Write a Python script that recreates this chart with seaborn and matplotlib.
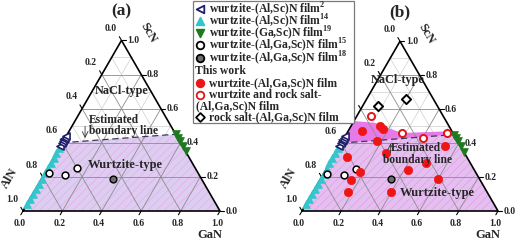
import matplotlib
matplotlib.use("Agg")
import matplotlib.pyplot as plt
from matplotlib.patches import Polygon, Rectangle
import numpy as np
import seaborn as sns

# ------------------------------------------------------------------
# DATA  (ternary fractions: GaN, ScN ; AlN = 1 - GaN - ScN)
# ------------------------------------------------------------------
# literature
alscn_ref2_scn = [0.38, 0.40, 0.41, 0.42, 0.43, 0.44]          # on AlN-ScN edge
alscn_ref14_scn = [0.04, 0.07, 0.10, 0.13, 0.16, 0.19, 0.22,
                   0.25, 0.28, 0.31, 0.34, 0.37]                # on AlN-ScN edge
gascn_ref19_scn = [0.35, 0.38, 0.41, 0.43, 0.45]                # on GaN-ScN edge
alga_ref15_gan = [0.02, 0.11, 0.15]
alga_ref15_scn = [0.22, 0.21, 0.25]
alga_ref18_gan = [0.36]
alga_ref18_scn = [0.19]

# this work
wz_gan = [0.07, 0.15, 0.17, 0.18, 0.26, 0.54, 0.07, 0.18, 0.16, 0.18, 0.40, 0.42, 0.49, 0.60]
wz_scn = [0.47, 0.50, 0.485, 0.41, 0.34, 0.38, 0.32, 0.23, 0.18, 0.11, 0.11, 0.24, 0.285, 0.19]
mix_gan = [0.07, 0.28, 0.40, 0.51]
mix_scn = [0.56, 0.46, 0.43, 0.46]
rs_gan = [0.08, 0.20]
rs_scn = [0.62, 0.66]

# estimated boundary (ScN at AlN-ScN edge, ScN at GaN-ScN edge)
boundary_scn = [0.40, 0.45]
# upper outline of the mixed-phase zone in panel (b)
mixed_top_gan = [0.0, 0.11, 0.20, 0.28, 0.53]
mixed_top_scn = [0.53, 0.52, 0.487, 0.46, 0.47]

tick_values = [0.0, 0.2, 0.4, 0.6, 0.8, 1.0]
tick_labels = ["0.0", "0.2", "0.4", "0.6", "0.8", "1.0"]

SQ = np.sqrt(3) / 2
SERIF = "Liberation Serif"


def tern_xy(gan, scn):
    gan = np.asarray(gan, dtype=float)
    scn = np.asarray(scn, dtype=float)
    return gan + scn / 2, scn * SQ


def draw_frame(ax, panel, lower_color, hatch_color):
    # grid
    for i in range(1, 10):
        v = i / 10
        major = i % 2 == 0
        col = "#8c8c8c" if major else "#cfcfcf"
        lw = 0.6 if major else 0.5
        z = 2.5 if major else 0.5
        segs = [
            tern_xy([0, 1 - v], [v, v]),          # const ScN
            tern_xy([v, v], [0, 1 - v]),          # const GaN
            tern_xy([1 - v, 0], [0, 1 - v]),      # const AlN
        ]
        for xs, ys in segs:
            ax.plot(xs, ys, color=col, lw=lw, zorder=z)

    # wurtzite region
    bx, by = tern_xy([0, 1, 1 - boundary_scn[1], 0],
                     [0, 0, boundary_scn[1], boundary_scn[0]])
    ax.add_patch(Polygon(np.column_stack([bx, by]), closed=True,
                         facecolor=lower_color, edgecolor=hatch_color,
                         hatch="////", lw=0, zorder=1))

    # boundary line
    lx, ly = tern_xy([0, 1 - boundary_scn[1]], boundary_scn)
    ax.plot(lx, ly, color="#3a3a5a", lw=0.9, ls=(0, (5, 3)), zorder=3)

    # outline
    ox, oy = tern_xy([0, 1, 0, 0], [0, 0, 1, 0])
    ax.plot(ox, oy, color="black", lw=1.2, zorder=4, solid_joinstyle="miter")

    tl = 0.022
    fs = 7
    for v, lab in zip(tick_values, tick_labels):
        # GaN (bottom)
        x0, y0 = tern_xy(v, 0)
        ax.plot([x0, x0 - 0.5 * tl], [y0, y0 - SQ * tl], color="black", lw=0.8)
        ax.text(x0 - 0.015, -0.042, lab, ha="center", va="top",
                fontsize=fs, fontweight="bold", family=SERIF)
        # ScN (right)
        x0, y0 = tern_xy(1 - v, v)
        ax.plot([x0, x0 + tl], [y0, y0], color="black", lw=0.8)
        ax.text(x0 + tl + 0.008, y0, lab, ha="left", va="center",
                fontsize=fs, fontweight="bold", family=SERIF)
        # AlN (left)
        x0, y0 = tern_xy(0, 1 - v)
        ax.plot([x0, x0 - 0.5 * tl], [y0, y0 + SQ * tl], color="black", lw=0.8)
        ax.text(x0 - 0.055, y0 + 0.06, lab, ha="center", va="center",
                fontsize=fs, fontweight="bold", family=SERIF)

    tf = 9
    ax.text(0.95, -0.12, "GaN", ha="center", va="center", fontsize=tf,
            fontweight="bold", family=SERIF)
    ax.text(-0.07, 0.165, "AlN", ha="center", va="center", fontsize=tf,
            fontweight="bold", family=SERIF, rotation=60)
    ax.text(0.636, 0.905, "ScN", ha="center", va="center", fontsize=tf,
            fontweight="bold", family=SERIF, rotation=-60)
    ax.text(0.5, 1.012, f"({panel})", ha="center", va="center", fontsize=12.5,
            fontweight="bold", family=SERIF)


def draw_literature(ax):
    n2 = len(alscn_ref2_scn)
    x, y = tern_xy(np.zeros(n2), alscn_ref2_scn)
    sns.scatterplot(x=x, y=y, marker="<", s=26, color="white",
                    edgecolor="#1d1d6b", linewidth=1.2, ax=ax, zorder=6, legend=False)
    n14 = len(alscn_ref14_scn)
    x, y = tern_xy(np.zeros(n14), alscn_ref14_scn)
    sns.scatterplot(x=x, y=y, marker="^", s=32, color="#33c6cc",
                    edgecolor="#33c6cc", linewidth=0.5, ax=ax, zorder=5, legend=False)
    g19 = 1 - np.asarray(gascn_ref19_scn)
    x, y = tern_xy(g19, gascn_ref19_scn)
    sns.scatterplot(x=x, y=y, marker="v", s=32, color="#1f7a1f",
                    edgecolor="#1f7a1f", linewidth=0.5, ax=ax, zorder=5, legend=False)
    x, y = tern_xy(alga_ref15_gan, alga_ref15_scn)
    sns.scatterplot(x=x, y=y, marker="o", s=24, color="white",
                    edgecolor="black", linewidth=1.1, ax=ax, zorder=6, legend=False)
    x, y = tern_xy(alga_ref18_gan, alga_ref18_scn)
    sns.scatterplot(x=x, y=y, marker="o", s=24, color="#6e6e6e",
                    edgecolor="black", linewidth=1.0, ax=ax, zorder=6, legend=False)


sns.set_style("white")
plt.rcParams["font.family"] = [SERIF, "DejaVu Serif"]
plt.rcParams["mathtext.fontset"] = "custom"
plt.rcParams["mathtext.rm"] = "Liberation Serif:bold"
plt.rcParams["mathtext.bf"] = "Liberation Serif:bold"
plt.rcParams["hatch.linewidth"] = 0.5

fig = plt.figure(figsize=(5.2, 2.41), dpi=100)

# ---------------- panel (a) ----------------
ax_a = fig.add_axes([0, 0, 0.5, 1])
ax_a.set_xlim(-23 / 197, 237 / 197)
ax_a.set_ylim(-30 / 197, 211 / 197)
ax_a.axis("off")
draw_frame(ax_a, "a", "#dccdf1", "#e6aee6")
draw_literature(ax_a)
ax_a.text(0.50, 0.611, "NaCl-type", ha="center", va="center", fontsize=8.8,
          fontweight="bold", family=SERIF, zorder=7)
ax_a.text(0.462, 0.462, "Estimated", ha="center", va="center", fontsize=8.3,
          fontweight="bold", family=SERIF, zorder=7)
ax_a.text(0.51, 0.408, "boundary line", ha="center", va="center", fontsize=8.3,
          fontweight="bold", family=SERIF, zorder=7)
ax_a.annotate("", xy=(0.315, 0.37), xytext=(0.315, 0.43),
              arrowprops=dict(arrowstyle="->", lw=0.6, color="#333333",
                              shrinkA=0, shrinkB=0), zorder=7)
ax_a.text(0.52, 0.234, "Wurtzite-type", ha="center", va="center", fontsize=9,
          fontweight="bold", family=SERIF, zorder=7)

# ---------------- panel (b) ----------------
ax_b = fig.add_axes([0.5, 0, 0.5, 1])
ax_b.set_xlim(-42 / 196, 218 / 196)
ax_b.set_ylim(-30 / 196, 211 / 196)
ax_b.axis("off")
draw_frame(ax_b, "b", "#e3c0f0", "#e79ae6")

mg = list(mixed_top_gan) + [1 - boundary_scn[1], 0]
ms = list(mixed_top_scn) + [boundary_scn[1], boundary_scn[0]]
mx, my = tern_xy(mg, ms)
ax_b.add_patch(Polygon(np.column_stack([mx, my]), closed=True,
                       facecolor="#e87ae8", edgecolor="none", zorder=1.2))

draw_literature(ax_b)
x, y = tern_xy(wz_gan, wz_scn)
sns.scatterplot(x=x, y=y, marker="o", s=36, color="#f01515", edgecolor="#f01515",
                linewidth=0.5, ax=ax_b, zorder=6, legend=False)
x, y = tern_xy(mix_gan, mix_scn)
sns.scatterplot(x=x, y=y, marker="o", s=26, color="white", edgecolor="#e01515",
                linewidth=1.4, ax=ax_b, zorder=6, legend=False)
x, y = tern_xy(rs_gan, rs_scn)
sns.scatterplot(x=x, y=y, marker="D", s=22, color="white", edgecolor="black",
                linewidth=1.4, ax=ax_b, zorder=6, legend=False)

ax_b.text(0.49, 0.668, "NaCl-type", ha="center", va="center", fontsize=8.8,
          fontweight="bold", family=SERIF, zorder=7)
ax_b.text(0.58, 0.32, "Estimated", ha="center", va="center", fontsize=8.3,
          fontweight="bold", family=SERIF, zorder=7)
ax_b.text(0.59, 0.262, "boundary line", ha="center", va="center", fontsize=8.3,
          fontweight="bold", family=SERIF, zorder=7)
ax_b.annotate("", xy=(0.452, 0.345), xytext=(0.452, 0.297),
              arrowprops=dict(arrowstyle="->", lw=0.6, color="#333333",
                              shrinkA=0, shrinkB=0), zorder=7)
ax_b.text(0.69, 0.093, "Wurtzite-type", ha="center", va="center", fontsize=9,
          fontweight="bold", family=SERIF, zorder=7)

# ---------------- legend ----------------
leg = fig.add_axes([0, 0, 1, 1], zorder=10)
leg.set_xlim(0, 520)
leg.set_ylim(241, 0)
leg.axis("off")
leg.add_patch(Rectangle((193, 1), 161, 122, facecolor="white",
                        edgecolor="#7a7a7a", lw=0.9))
legend_rows = [
    ("<", "white", "#1d1d6b", 9, r"wurtzite-(Al,Sc)N film$^{2}$"),
    ("^", "#33c6cc", "#33c6cc", 21, r"wurtzite-(Al,Sc)N film$^{14}$"),
    ("v", "#1f7a1f", "#1f7a1f", 33, r"wurtzite-(Ga,Sc)N film$^{19}$"),
    ("o", "white", "black", 45, r"wurtzite-(Al,Ga,Sc)N film$^{15}$"),
    ("o", "#6e6e6e", "black", 58, r"wurtzite-(Al,Ga,Sc)N film$^{18}$"),
    ("o", "#f01515", "#f01515", 83, "wurtzite-(Al,Ga,Sc)N film"),
    ("o", "white", "#e01515", 95, "wurtzite and rock salt-"),
    ("D", "white", "black", 117, "rock salt-(Al,Ga,Sc)N film"),
]
for mk, fc, ec, yy, lab in legend_rows:
    leg.scatter([200], [yy], marker=mk, s=30 if mk != "D" else 20,
                facecolor=fc, edgecolor=ec, linewidth=1.3)
    leg.text(209, yy, lab, ha="left", va="center", fontsize=8.4,
             fontweight="bold", family=SERIF)
leg.text(195, 71, "This work", ha="left", va="center", fontsize=8.4,
         fontweight="bold", family=SERIF)
leg.text(196, 106, "(Al,Ga,Sc)N film", ha="left", va="center", fontsize=8.4,
         fontweight="bold", family=SERIF)

fig.savefig("out.png", dpi=100)
plt.close(fig)
